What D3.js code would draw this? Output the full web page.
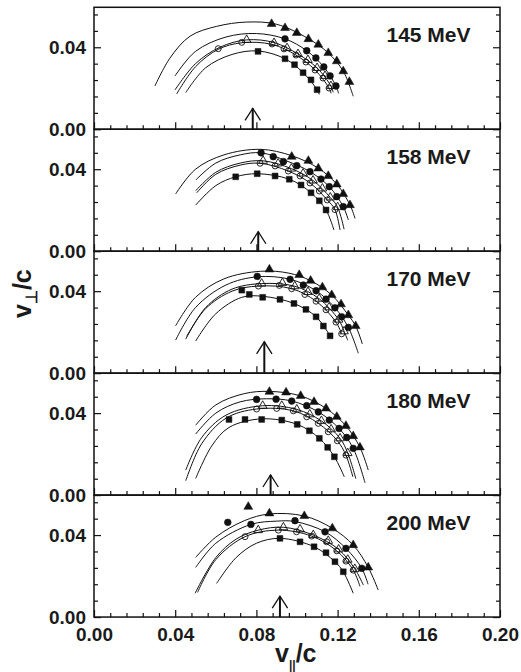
<!DOCTYPE html>
<html>
<head>
<meta charset="utf-8">
<script src="https://cdn.jsdelivr.net/npm/d3@7"></script>
<style>
  html, body { margin: 0; padding: 0; background: #fff; }
  svg { display: block; }
  text { font-family: "Liberation Sans", Arial, Helvetica, sans-serif; font-weight: bold; fill: #1a1a1a; }
</style>
</head>
<body>
<svg id="chart" width="521" height="672"></svg>
<script>
// Beam energies, one panel each (top to bottom)
const energies = ["145 MeV", "158 MeV", "170 MeV", "180 MeV", "200 MeV"];

// Source-velocity arrows: position on v_par/c and length on v_perp/c
const arrowX = [0.0782, 0.0809, 0.0839, 0.0870, 0.0916];
const arrowLength = [0.0102, 0.0095, 0.0153, 0.0098, 0.0102];

const xTickLabels = [0.00, 0.04, 0.08, 0.12, 0.16, 0.20];
const yTickLabels = [0.00, 0.04];

// Measured points, [v_par/c, v_perp/c], one list per panel
const solidTriangles = [
  [[0.0875,0.0514],[0.0941,0.0494],[0.0999,0.0470],[0.1056,0.0440],[0.1105,0.0413],[0.1154,0.0372],[0.1196,0.0332],[0.1228,0.0283],[0.1258,0.0231]],
  [[0.0974,0.0461],[0.1056,0.0441],[0.1105,0.0404],[0.1154,0.0367],[0.1196,0.0326],[0.1228,0.0279],[0.1261,0.0225]],
  [[0.0864,0.0506],[0.1011,0.0479],[0.1067,0.0451],[0.1125,0.0419],[0.1171,0.0381],[0.1217,0.0336],[0.1253,0.0283],[0.1289,0.0230]],
  [[0.0864,0.0504],[0.0946,0.0501],[0.1018,0.0484],[0.1084,0.0455],[0.1143,0.0423],[0.1196,0.0382],[0.1241,0.0338],[0.1277,0.0288],[0.1310,0.0233]],
  [[0.0760,0.0538],[0.0864,0.0506],[0.1036,0.0493],[0.1174,0.0433],[0.1277,0.0351],[0.1351,0.0242]]
];
const solidCircles = [
  [[0.0941,0.0441],[0.1048,0.0383],[0.1093,0.0348],[0.1132,0.0304],[0.1163,0.0260],[0.1192,0.0211]],
  [[0.0823,0.0480],[0.0883,0.0461],[0.0933,0.0437],[0.0999,0.0417],[0.1064,0.0388],[0.1118,0.0352],[0.1159,0.0315],[0.1196,0.0266],[0.1228,0.0217]],
  [[0.0804,0.0472],[0.0966,0.0458],[0.1031,0.0430],[0.1094,0.0402],[0.1143,0.0361],[0.1187,0.0319],[0.1220,0.0275],[0.1253,0.0223]],
  [[0.0801,0.0467],[0.0897,0.0468],[0.0974,0.0459],[0.1048,0.0436],[0.1105,0.0406],[0.1159,0.0366],[0.1207,0.0325],[0.1245,0.0281],[0.1277,0.0228]],
  [[0.0659,0.0462],[0.0773,0.0452],[0.0990,0.0470],[0.1138,0.0416],[0.1241,0.0335],[0.1319,0.0238]]
];
const openTriangles = [
  [[0.0752,0.0436],[0.0887,0.0421],[0.0951,0.0396],[0.1005,0.0367],[0.1054,0.0338],[0.1099,0.0299],[0.1138,0.0260],[0.1167,0.0211]],
  [[0.0833,0.0441],[0.0907,0.0428],[0.0972,0.0403],[0.1030,0.0379],[0.1079,0.0345],[0.1125,0.0306],[0.1164,0.0262],[0.1200,0.0215]],
  [[0.0826,0.0437],[0.0928,0.0440],[0.0989,0.0424],[0.1054,0.0396],[0.1109,0.0363],[0.1158,0.0321],[0.1205,0.0261],[0.1232,0.0204]],
  [[0.0831,0.0436],[0.0925,0.0436],[0.0999,0.0418],[0.1063,0.0394],[0.1120,0.0362],[0.1168,0.0321],[0.1212,0.0277],[0.1250,0.0205]],
  [[0.0809,0.0424],[0.0933,0.0438],[0.1015,0.0428],[0.1080,0.0400],[0.1154,0.0372],[0.1205,0.0330],[0.1250,0.0280],[0.1285,0.0235]]
];
const openCircles = [
  [[0.0612,0.0393],[0.0728,0.0424],[0.0877,0.0416],[0.0936,0.0392],[0.0995,0.0362],[0.1044,0.0328],[0.1089,0.0289],[0.1128,0.0250],[0.1158,0.0201]],
  [[0.0818,0.0429],[0.0892,0.0416],[0.0957,0.0391],[0.1015,0.0367],[0.1064,0.0333],[0.1110,0.0294],[0.1149,0.0250],[0.1187,0.0203]],
  [[0.0810,0.0425],[0.0913,0.0428],[0.0974,0.0412],[0.1039,0.0384],[0.1094,0.0351],[0.1143,0.0309],[0.1192,0.0249],[0.1220,0.0192]],
  [[0.0801,0.0420],[0.0900,0.0423],[0.0982,0.0411],[0.1048,0.0382],[0.1105,0.0350],[0.1154,0.0309],[0.1199,0.0265],[0.1241,0.0195]],
  [[0.0744,0.0392],[0.0908,0.0424],[0.0998,0.0416],[0.1072,0.0395],[0.1146,0.0367],[0.1196,0.0323],[0.1241,0.0273],[0.1277,0.0229]]
];
const solidSquares = [
  [[0.0808,0.0380],[0.0941,0.0344],[0.0988,0.0315],[0.1030,0.0276],[0.1069,0.0241],[0.1099,0.0193]],
  [[0.0698,0.0363],[0.0804,0.0378],[0.0892,0.0367],[0.0962,0.0351],[0.1020,0.0323],[0.1069,0.0285],[0.1110,0.0246],[0.1143,0.0201]],
  [[0.0728,0.0405],[0.0765,0.0384],[0.0831,0.0370],[0.0916,0.0360],[0.0985,0.0340],[0.1044,0.0311],[0.1094,0.0275],[0.1130,0.0230],[0.1163,0.0182]],
  [[0.0665,0.0369],[0.0744,0.0369],[0.0826,0.0369],[0.0925,0.0366],[0.1001,0.0345],[0.1061,0.0314],[0.1110,0.0277],[0.1151,0.0233],[0.1184,0.0187]],
  [[0.0916,0.0384],[0.1015,0.0367],[0.1084,0.0343],[0.1143,0.0314],[0.1187,0.0270],[0.1228,0.0221]]
];

// Model curves (knots along each arc), same order as the point sets
const curveSolidTriangles = [
  [[0.0300,0.0211],[0.0374,0.0347],[0.0473,0.0454],[0.0604,0.0502],[0.0752,0.0523],[0.0900,0.0512],[0.1056,0.0442],[0.1154,0.0372],[0.1228,0.0283],[0.1277,0.0161]],
  [[0.0402,0.0279],[0.0500,0.0400],[0.0640,0.0470],[0.0820,0.0497],[0.0974,0.0466],[0.1105,0.0405],[0.1196,0.0327],[0.1261,0.0226],[0.1286,0.0160]],
  [[0.0402,0.0231],[0.0500,0.0370],[0.0640,0.0460],[0.0820,0.0497],[0.0960,0.0488],[0.1067,0.0451],[0.1171,0.0381],[0.1253,0.0283],[0.1289,0.0230],[0.1322,0.0142]],
  [[0.0501,0.0341],[0.0600,0.0440],[0.0740,0.0495],[0.0864,0.0506],[0.1018,0.0484],[0.1143,0.0423],[0.1241,0.0338],[0.1310,0.0233],[0.1351,0.0122]],
  [[0.0501,0.0291],[0.0600,0.0390],[0.0740,0.0470],[0.0864,0.0503],[0.1036,0.0493],[0.1174,0.0433],[0.1277,0.0351],[0.1351,0.0242],[0.1400,0.0132]]
];
const curveSolidCircles = [
  [[0.0399,0.0260],[0.0500,0.0380],[0.0650,0.0450],[0.0800,0.0467],[0.0941,0.0441],[0.1048,0.0383],[0.1132,0.0304],[0.1192,0.0211],[0.1205,0.0175]],
  [[0.0501,0.0347],[0.0600,0.0430],[0.0720,0.0470],[0.0823,0.0480],[0.0950,0.0440],[0.1064,0.0388],[0.1159,0.0315],[0.1228,0.0217],[0.1253,0.0152]],
  [[0.0402,0.0161],[0.0500,0.0320],[0.0650,0.0430],[0.0804,0.0470],[0.0966,0.0458],[0.1094,0.0402],[0.1187,0.0319],[0.1253,0.0223],[0.1302,0.0097]],
  [[0.0501,0.0298],[0.0600,0.0400],[0.0720,0.0455],[0.0850,0.0470],[0.0974,0.0459],[0.1105,0.0406],[0.1207,0.0325],[0.1277,0.0228],[0.1335,0.0060]],
  [[0.0501,0.0242],[0.0600,0.0360],[0.0773,0.0452],[0.0900,0.0468],[0.0990,0.0466],[0.1138,0.0416],[0.1241,0.0335],[0.1319,0.0238],[0.1350,0.0160]]
];
const curveOpenTriangles = [
  [[0.0399,0.0192],[0.0500,0.0320],[0.0620,0.0400],[0.0752,0.0436],[0.0887,0.0423],[0.1005,0.0367],[0.1099,0.0299],[0.1167,0.0211],[0.1178,0.0180]],
  [[0.0501,0.0295],[0.0600,0.0385],[0.0720,0.0430],[0.0833,0.0441],[0.0972,0.0403],[0.1079,0.0345],[0.1164,0.0262],[0.1200,0.0215],[0.1232,0.0107]],
  [[0.0452,0.0166],[0.0550,0.0320],[0.0680,0.0410],[0.0826,0.0437],[0.0989,0.0424],[0.1109,0.0363],[0.1205,0.0261],[0.1232,0.0204],[0.1250,0.0160]],
  [[0.0452,0.0122],[0.0530,0.0280],[0.0650,0.0390],[0.0831,0.0436],[0.0999,0.0418],[0.1120,0.0362],[0.1212,0.0277],[0.1250,0.0205],[0.1290,0.0080]],
  [[0.0498,0.0116],[0.0600,0.0290],[0.0700,0.0380],[0.0809,0.0424],[0.0933,0.0438],[0.1080,0.0400],[0.1205,0.0330],[0.1285,0.0235],[0.1327,0.0156]]
];
const curveOpenCircles = [
  [[0.0407,0.0172],[0.0500,0.0305],[0.0612,0.0390],[0.0728,0.0422],[0.0877,0.0414],[0.0995,0.0362],[0.1089,0.0289],[0.1158,0.0201],[0.1168,0.0175]],
  [[0.0506,0.0285],[0.0600,0.0375],[0.0720,0.0420],[0.0818,0.0429],[0.0957,0.0391],[0.1064,0.0333],[0.1149,0.0250],[0.1187,0.0203],[0.1212,0.0103]],
  [[0.0457,0.0180],[0.0550,0.0315],[0.0680,0.0400],[0.0810,0.0425],[0.0974,0.0412],[0.1094,0.0351],[0.1192,0.0249],[0.1220,0.0192]],
  [[0.0452,0.0070],[0.0530,0.0250],[0.0650,0.0375],[0.0801,0.0420],[0.0982,0.0411],[0.1105,0.0350],[0.1199,0.0265],[0.1241,0.0195],[0.1275,0.0090]],
  [[0.0510,0.0120],[0.0600,0.0280],[0.0744,0.0392],[0.0908,0.0424],[0.1072,0.0395],[0.1196,0.0323],[0.1277,0.0229],[0.1310,0.0150]]
];
const curveSolidSquares = [
  [[0.0452,0.0179],[0.0550,0.0300],[0.0680,0.0365],[0.0808,0.0382],[0.0941,0.0344],[0.1030,0.0276],[0.1099,0.0193],[0.1110,0.0170]],
  [[0.0501,0.0225],[0.0600,0.0320],[0.0698,0.0363],[0.0804,0.0378],[0.0962,0.0351],[0.1069,0.0285],[0.1143,0.0201],[0.1182,0.0103]],
  [[0.0501,0.0157],[0.0600,0.0290],[0.0728,0.0370],[0.0831,0.0375],[0.0985,0.0340],[0.1094,0.0275],[0.1163,0.0182]],
  [[0.0501,0.0081],[0.0580,0.0240],[0.0665,0.0330],[0.0826,0.0372],[0.1001,0.0345],[0.1110,0.0277],[0.1184,0.0187],[0.1233,0.0089]],
  [[0.0604,0.0164],[0.0700,0.0290],[0.0800,0.0360],[0.0916,0.0384],[0.1084,0.0343],[0.1187,0.0270],[0.1228,0.0221],[0.1277,0.0116]]
];

// ---- layout ----
const svg = d3.select("#chart");
const plotLeft = 94, plotRight = 500, plotTop = 7.3, panelH = 121.95;
const x = d3.scaleLinear().domain([0, 0.20]).range([plotLeft, plotRight]);
const y = d3.scaleLinear().domain([0, 0.0595]).range([panelH, 0]);

const xMinor = d3.range(0, 26).map(k => k * 0.008);
const yMinor = d3.range(0, 8).map(k => k * 0.008);
const isMajor = v => Math.abs(v / 0.04 - Math.round(v / 0.04)) < 1e-6;

const line = d3.line().x(d => x(d[0])).y(d => y(d[1])).curve(d3.curveCatmullRom.alpha(0.5));

const triangle = d3.symbol().type(d3.symbolTriangle).size(34);
const circleSym = d3.symbol().type(d3.symbolCircle).size(36);
const openCircleSym = d3.symbol().type(d3.symbolCircle).size(28);
const squareSym = d3.symbol().type(d3.symbolSquare).size(34);
const openTriangle = d3.symbol().type(d3.symbolTriangle).size(32);

energies.forEach((label, i) => {
  const g = svg.append("g").attr("transform", `translate(0,${plotTop + i * panelH})`);
  const last = i === energies.length - 1;

  // curves
  [curveSolidTriangles, curveSolidCircles, curveOpenTriangles, curveOpenCircles, curveSolidSquares]
    .forEach(set => {
      g.append("path").attr("d", line(set[i]))
        .attr("fill", "none").attr("stroke", "#111").attr("stroke-width", 1);
    });

  // markers
  const drawPoints = (data, sym, filled) => {
    g.append("g").selectAll("path").data(data).join("path")
      .attr("transform", d => `translate(${x(d[0])},${y(d[1])})`)
      .attr("d", sym)
      .attr("fill", filled ? "#111" : "none")
      .attr("stroke", "#111")
      .attr("stroke-width", filled ? 0.5 : 0.9);
  };
  drawPoints(solidSquares[i], squareSym, true);
  drawPoints(openCircles[i], openCircleSym, false);
  drawPoints(openTriangles[i], openTriangle, false);
  drawPoints(solidCircles[i], circleSym, true);
  drawPoints(solidTriangles[i], triangle, true);

  // source-velocity arrow
  const ax = x(arrowX[i]), a0 = y(0), a1 = y(arrowLength[i]);
  g.append("line").attr("x1", ax).attr("x2", ax).attr("y1", a0).attr("y2", a1)
    .attr("stroke", "#111").attr("stroke-width", 2);
  g.append("path")
    .attr("d", `M${ax - 7.7},${a1 + 12}L${ax},${a1}L${ax + 7.7},${a1 + 12}`)
    .attr("fill", "none").attr("stroke", "#111").attr("stroke-width", 1.3);

  // axes with inward ticks
  const bottomMinor = d3.axisBottom(x).tickValues(xMinor.filter(v => !isMajor(v))).tickSize(-4).tickFormat("");
  const bottomMajor = d3.axisBottom(x).tickValues(xTickLabels).tickSize(-7).tickPadding(10)
    .tickFormat(last ? d3.format(".2f") : "");
  const leftMinor = d3.axisLeft(y).tickValues(yMinor.filter(v => !isMajor(v))).tickSize(-4).tickFormat("");
  const leftMajor = d3.axisLeft(y).tickValues(yTickLabels).tickSize(-7).tickPadding(8).tickFormat(d3.format(".2f"));
  const rightMinor = d3.axisRight(y).tickValues(yMinor.filter(v => !isMajor(v))).tickSize(-4).tickFormat("");
  const rightMajor = d3.axisRight(y).tickValues(yTickLabels).tickSize(-7).tickFormat("");

  const axisGroups = [
    g.append("g").attr("transform", `translate(0,${panelH})`).call(bottomMinor),
    g.append("g").attr("transform", `translate(0,${panelH})`).call(bottomMajor),
    g.append("g").attr("transform", `translate(${plotLeft},0)`).call(leftMinor),
    g.append("g").attr("transform", `translate(${plotLeft},0)`).call(leftMajor),
    g.append("g").attr("transform", `translate(${plotRight},0)`).call(rightMinor),
    g.append("g").attr("transform", `translate(${plotRight},0)`).call(rightMajor)
  ];
  axisGroups.forEach(a => {
    a.select(".domain").remove();
    a.selectAll(".tick line").attr("stroke", "#111").attr("stroke-width", 1.2);
    a.selectAll(".tick text").attr("font-size", 19).attr("font-family", null).attr("fill", "#1a1a1a");
  });

  // frame
  g.append("rect").attr("x", plotLeft).attr("y", 0).attr("width", plotRight - plotLeft).attr("height", panelH)
    .attr("fill", "none").attr("stroke", "#111").attr("stroke-width", 1.5);

  // energy label
  g.append("text").attr("x", 386.5).attr("y", 34.5).attr("font-size", 21).text(label);
});

// axis titles
const xt = svg.append("text").attr("x", 275).attr("y", 662).attr("font-size", 25);
xt.append("tspan").text("v");
xt.append("tspan").attr("font-size", 12).attr("dy", 7).text("||");
xt.append("tspan").attr("dy", -7).text("/c");

const yt = svg.append("text").attr("transform", "translate(31,318) rotate(-90)").attr("font-size", 25);
yt.append("tspan").text("v");
yt.append("tspan").attr("font-size", 16).attr("dy", 6).text("\u22A5");
yt.append("tspan").attr("dy", -6).text("/c");
</script>
</body>
</html>
